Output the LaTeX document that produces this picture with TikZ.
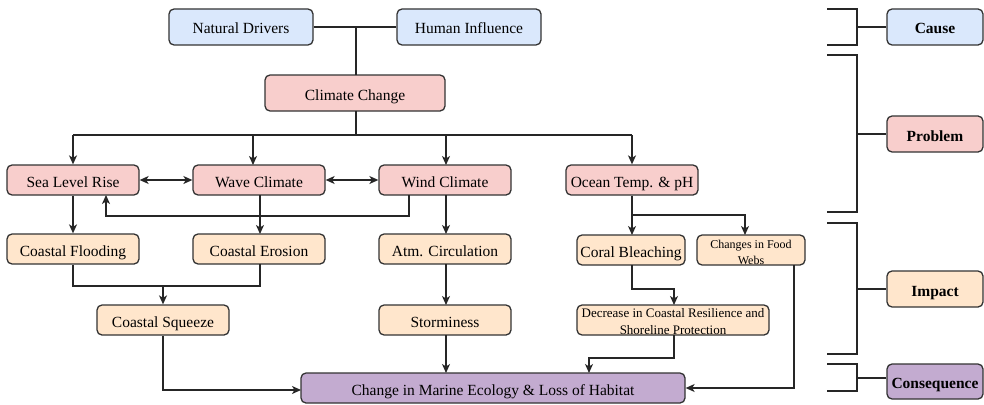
\documentclass[tikz,border=0pt]{standalone}
\usepackage{fontspec}
\setmainfont{Liberation Serif}
\usetikzlibrary{arrows.meta}
\definecolor{cblue}{HTML}{DAE8FC}
\definecolor{cpink}{HTML}{F8CECC}
\definecolor{corange}{HTML}{FFE6CC}
\definecolor{cpurple}{HTML}{C3ABD0}
\definecolor{cline}{HTML}{333333}
\tikzset{
  boxbase/.style={draw=cline, line width=1.3pt, rounded corners=5pt, inner sep=0pt,
    align=center, font=\rmfamily\fontsize{15.5}{18}\selectfont},
  box/.style={boxbase, text height=14pt, text depth=0pt},
  bluebox/.style={box, fill=cblue},
  pinkbox/.style={box, fill=cpink},
  orangebox/.style={box, fill=corange},
  purplebox/.style={box, fill=cpurple},
  twoline/.style={boxbase, fill=corange},
  lab/.style={font=\rmfamily\fontsize{15.5}{18}\selectfont\bfseries},
  conn/.style={draw=black!85, line width=1.3pt},
  arr/.style={conn, -{Stealth[length=9pt,width=8pt,inset=2.5pt]}},
  darr/.style={conn, {Stealth[length=9pt,width=8pt,inset=2.5pt]}-{Stealth[length=9pt,width=8pt,inset=2.5pt]}},
}
\begin{document}
\begin{tikzpicture}[x=1pt,y=-1pt]
\useasboundingbox (0,0) rectangle (984,404);

% cause
\node[bluebox, minimum width=144, minimum height=36] (nd) at (241,27) {Natural Drivers};
\node[bluebox, minimum width=144, minimum height=36] (hi) at (469,27) {Human Influence};
% problem
\node[pinkbox, minimum width=180, minimum height=36] (cc) at (355,93) {Climate Change};
\node[pinkbox, minimum width=132, minimum height=30] (slr) at (73,180) {Sea Level Rise};
\node[pinkbox, minimum width=132, minimum height=30] (wc) at (259,180) {Wave Climate};
\node[pinkbox, minimum width=132, minimum height=30] (wind) at (445,180) {Wind Climate};
\node[pinkbox, minimum width=132, minimum height=30] (ocean) at (632,180) {Ocean Temp. \& pH};
% impact
\node[orangebox, minimum width=132, minimum height=30] (cf) at (73,249) {Coastal Flooding};
\node[orangebox, minimum width=132, minimum height=30] (ce) at (259,249) {Coastal Erosion};
\node[orangebox, minimum width=132, minimum height=30] (atm) at (445,249) {Atm. Circulation};
\node[orangebox, minimum width=108, minimum height=30] (cb) at (631,250) {Coral Bleaching};
\node[twoline, minimum width=108, minimum height=30, font=\rmfamily\fontsize{12}{16}\selectfont] (cfw) at (751,250) {\rule{0pt}{12.6pt}Changes in Food\\Webs};
\node[orangebox, minimum width=132, minimum height=30] (cs) at (163,320) {Coastal Squeeze};
\node[orangebox, minimum width=132, minimum height=30] (storm) at (445,320) {Storminess};
\node[twoline, minimum width=192, minimum height=30, font=\rmfamily\fontsize{13}{16.6}\selectfont] (dcr) at (673,320) {\rule{0pt}{12pt}Decrease in Coastal Resilience and\\Shoreline Protection};
% consequence
\node[purplebox, minimum width=384, minimum height=30] (final) at (493,388) {Change in Marine Ecology \& Loss of Habitat};

% right-side labels
\node[bluebox, lab, minimum width=96, minimum height=36] (cause) at (935,27) {Cause};
\node[pinkbox, lab, minimum width=96, minimum height=36] (problem) at (935,134) {Problem};
\node[orangebox, lab, minimum width=96, minimum height=36] (impact) at (935,289) {Impact};
\node[purplebox, lab, minimum width=96, minimum height=35] (conseq) at (935,381.5) {Consequence};

% cause -> climate change
\draw[conn] (nd.east) -- (hi.west);
\coordinate (j1) at (356,27);
\draw[conn] (j1) -- (356,75);

% climate change -> problems
\coordinate (b) at (356,135);
\draw[conn] (356,111) -- (b);
\draw[conn] (73,135) -- (632,135);
\draw[arr] (73,135) -- (slr.north);
\draw[arr] (253,135) -- (253,165);
\draw[arr] (446,135) -- (446,165);
\draw[arr] (632,135) -- (ocean.north);

% double arrows
\draw[darr] (slr.east) -- (wc.west);
\draw[darr] (wc.east) -- (wind.west);

% loop wind -> sea level
\draw[arr] (409,195) -- (409,216) -- (106,216) -- (106,195);

% problems -> impacts
\draw[arr] (slr.south) -- (cf.north);
\draw[arr] (260,195) -- (260,234);
\draw[arr] (446,195) -- (446,234);
\coordinate (oj) at (632,215);
\draw[conn] (ocean.south) -- (oj);
\draw[arr] (oj) -- (632,235);
\draw[arr] (oj) -- (745,215) -- (745,235);

% impacts second level
\draw[conn] (cf.south) -- (73,286) -- (260,286) -- (260,264);
\draw[arr] (163,286) -- (cs.north);
\draw[arr] (446,264) -- (446,305);
\draw[arr] (632,265) -- (632,289) -- (674,289) -- (674,305);

% to consequence
\draw[arr] (cs.south) -- (163,390) -- (301,390);
\draw[arr] (446,335) -- (446,373);
\draw[arr] (674,335) -- (674,358) -- (589,358) -- (589,373);
\draw[arr] (794,265) |- (final.east);

% brackets
\draw[conn] (827,9) -- (857,9) -- (857,45) -- (827,45);
\draw[conn] (857,27) -- (cause.west);
\draw[conn] (827,55) -- (857,55) -- (857,212) -- (827,212);
\draw[conn] (857,134) -- (problem.west);
\draw[conn] (827,223) -- (857,223) -- (857,354) -- (827,354);
\draw[conn] (857,289) -- (impact.west);
\draw[conn] (827,364) -- (857,364) -- (857,391) -- (827,391);
\draw[conn] (857,378) -- (conseq.west |- 857,378);
\end{tikzpicture}
\end{document}
